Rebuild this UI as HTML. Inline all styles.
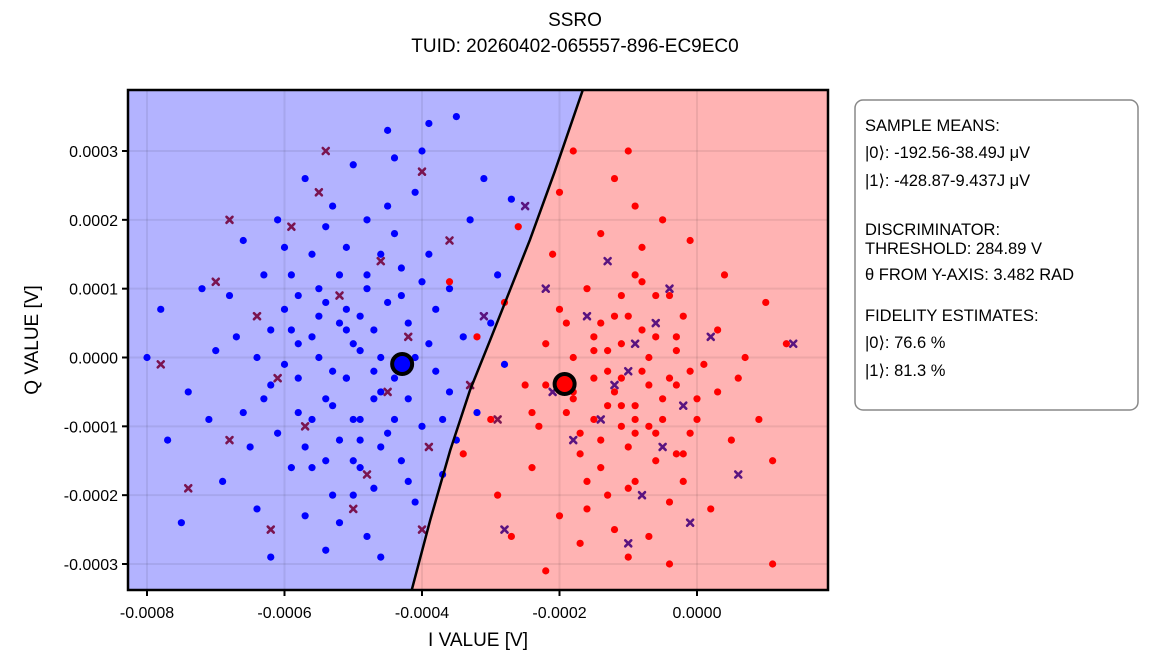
<!DOCTYPE html>
<html><head><meta charset="utf-8"><style>
body{margin:0;background:#fff;width:1149px;height:662px;overflow:hidden;font-family:"Liberation Sans",sans-serif}
svg text{font-family:"Liberation Sans","DejaVu Sans",sans-serif}
</style></head><body>
<svg id="chart" width="1149" height="662" xmlns="http://www.w3.org/2000/svg">
<text x="575" y="26" font-size="19" text-anchor="middle">SSRO</text>
<text x="575" y="52" font-size="19" text-anchor="middle">TUID: 20260402-065557-896-EC9EC0</text>
<g id="plot"></g>
<text x="478" y="646" font-size="19" text-anchor="middle">I VALUE [V]</text>
<text transform="translate(38,340) rotate(-90)" font-size="19" text-anchor="middle">Q VALUE [V]</text>
<g>
<rect x="855" y="100" width="283" height="310" rx="8" fill="#fff" stroke="#888" stroke-width="1.5"/>
<g font-size="16.5" fill="#000">
<text x="865" y="131">SAMPLE MEANS:</text>
<text x="865" y="158">|0⟩: -192.56-38.49J μV</text>
<text x="865" y="186">|1⟩: -428.87-9.437J μV</text>
<text x="865" y="235">DISCRIMINATOR:</text>
<text x="865" y="254">THRESHOLD: 284.89 V</text>
<text x="865" y="280">θ FROM Y-AXIS: 3.482 RAD</text>
<text x="865" y="321">FIDELITY ESTIMATES:</text>
<text x="865" y="348">|0⟩: 76.6 %</text>
<text x="865" y="376">|1⟩: 81.3 %</text>
</g></g>
</svg>
<script>
// data in units of 1e-4 V
const xTicks=[-8,-6,-4,-2,0];
const yTicks=[3,2,1,0,-1,-2,-3];
const boundaryI=[-1.66,-2.07,-2.43,-2.72,-3.01,-3.30,-3.59,-3.88,-4.15];
const boundaryQ=[3.89,2.70,1.71,0.98,0.25,-0.47,-1.35,-2.36,-3.38];
const blueI=[-5.0,-4.6,-5.4,-4.2,-5.8,-6.2,-4.8,-5.2,-3.8,-6.6,-4.4,-5.6,-3.6,-7.0,-4.0,-5.9,-4.7,-6.3,-3.4,-5.3,-7.4,-4.9,-6.0,-3.2,-5.5,-4.5,-6.8,-4.1,-5.7,-3.9,-6.5,-4.3,-7.2,-5.1,-2.9,-6.1,-3.7,-8.0,-4.8,-5.4,-6.9,-3.3,-5.0,-4.6,-6.4,-2.8,-5.8,-7.7,-4.2,-5.2,-3.5,-6.7,-4.0,-5.6,-7.5,-4.4,-6.2,-3.1,-5.3,-6.0,-4.9,-4.7,-5.5,-6.3,-3.8,-5.1,-4.5,-5.9,-4.3,-6.6,-3.6,-5.7,-7.1,-4.1,-5.0,-6.1,-3.0,-2.7,-3.9,-7.8,-5.4,-4.6,-4.5,-3.5,
-5.1,-4.9,-5.3,-4.7,-5.6,-4.4,-5.0,-4.8,-5.2,-4.6,-5.4,-4.3,-5.8,-4.1,-5.5,-4.9,-5.1,-4.6,-5.7,-4.4,-5.3,-6.0,-4.0,-5.0,-4.8,-5.9,-4.2,-5.6,-3.9,-6.2,-4.5,-5.2,-4.7,-5.4,-6.4,-3.7,-5.1,-4.3,-5.8,-4.9];
const blueQ=[0.2,-0.5,0.8,0.5,-0.3,0.4,1.2,-1.2,-0.2,-0.8,1.8,1.5,1.0,0.1,-1.0,-1.6,-1.9,1.2,0.3,2.2,-0.5,-0.9,-0.1,-0.8,0.0,0.8,0.9,2.4,-2.3,1.5,-1.3,-1.5,1.0,1.6,1.2,2.0,-1.7,0.0,-2.6,-0.6,-1.8,2.0,2.8,0.0,-2.2,-0.1,0.9,-1.2,-0.6,0.5,-1.2,0.3,3.0,-0.9,-2.4,2.9,-2.9,2.6,-2.0,1.6,0.6,-0.2,1.0,-0.6,0.7,-0.3,-1.1,0.4,1.3,1.7,-0.5,2.6,-0.9,-2.1,-1.5,-1.1,0.5,2.3,3.4,0.7,-2.8,-2.9,3.3,3.5,
-0.3,0.1,-0.7,0.4,0.3,-0.3,-0.9,1.0,1.2,-1.3,-1.5,0.9,-0.8,0.0,0.6,-1.6,0.7,1.5,-1.3,-0.9,-0.2,0.7,1.1,-2.0,2.0,1.2,-1.8,-1.6,0.2,-0.4,2.2,-2.4,-0.6,1.9,0.0,-0.9,0.4,-0.1,0.2,-1.2];
const redI=[-1.2,-0.8,-1.5,-0.5,-1.9,-1.0,-0.3,-1.7,-0.6,-2.2,-1.3,0.0,-2.5,-0.9,-1.6,-0.2,-2.0,-1.1,0.3,-2.8,-0.7,-1.4,0.5,-2.4,-0.4,-1.8,-0.1,-1.0,-2.1,0.7,-3.0,-0.5,-1.5,-0.9,-2.6,0.2,-1.2,-1.7,0.9,-2.9,-0.6,-1.3,-0.3,-2.3,-0.8,1.0,-3.2,-1.6,0.4,-2.0,-0.4,1.1,-2.7,-1.1,-0.2,-1.9,-1.4,-0.7,0.6,-3.4,-1.0,1.3,-2.2,-0.1,1.1,-3.6,-0.9,-1.8,
-1.1,-0.9,-1.3,-0.7,-1.5,-0.4,-1.0,-0.8,-1.2,-0.6,-1.4,-0.3,-1.8,-0.1,-1.5,-0.9,-1.1,-0.6,-1.7,-0.4,-1.3,-2.0,0.0,-1.0,-0.8,-1.9,-0.2,-1.6,0.1,-2.2,-0.5,-1.2,-0.7,-1.4,-2.4,0.3,-1.1,-0.3,-1.8,-0.9];
const redQ=[-0.5,-0.2,0.3,-0.9,-0.8,0.6,0.1,-1.4,-1.5,0.2,-2.0,-0.6,-0.4,1.2,1.0,-1.8,-2.3,-1.0,0.4,0.8,-2.6,1.8,-1.2,-1.6,0.9,0.0,-1.1,-2.9,1.5,0.0,-0.9,2.0,-0.3,-0.7,1.9,-2.2,2.6,-2.7,-0.9,-2.0,0.3,0.1,-0.4,-1.0,1.6,0.8,0.3,-1.8,1.2,2.4,-3.0,-1.5,-2.6,0.9,0.6,0.5,-1.2,-0.4,-0.3,-1.4,3.0,0.2,-3.1,1.7,-3.0,1.1,2.2,3.0,
-0.3,-0.9,-0.7,0.0,0.1,-0.3,-1.3,0.4,0.6,-1.1,-1.6,-1.4,-0.5,-0.2,-0.9,-1.8,0.2,0.9,-1.1,-2.1,-0.2,0.7,-0.9,-1.9,1.1,-0.3,-1.4,-2.2,-0.1,-0.4,-0.6,-2.5,-1.0,0.5,-0.8,-0.5,-0.7,0.3,-0.6,-1.1];
const crossAI=[-5.9,-4.0,-6.8,-4.5,-7.4,-5.2,-3.6,-6.1,-4.8,-5.5,-7.0,-3.9,-5.0,-6.4,-4.2,-3.3,-6.8,-5.7,-4.6,-7.8,-6.2,-4.0,-2.9,-5.4];
const crossAQ=[1.9,2.7,-1.2,-0.5,-1.9,0.9,1.7,-0.3,-1.7,2.4,1.1,-1.3,-2.2,0.6,0.3,-0.4,2.0,-1.0,1.4,-0.1,-2.5,-2.5,-0.9,3.0];
const crossBI=[-1.0,-0.5,-1.6,-0.2,-2.1,-0.8,-1.3,0.2,-2.5,-1.0,-0.4,-1.8,0.6,-2.8,-1.4,-0.6,1.4,-2.2,-0.1,-3.1,-0.9,-1.2];
const crossBQ=[-0.2,-1.3,0.6,-0.7,-0.5,-2.0,1.4,0.3,2.2,-2.7,1.0,-1.2,-1.7,-2.5,-0.9,0.5,0.2,1.0,-2.4,0.6,0.2,-0.4];
const meanI=[-1.9256,-4.2887];
const meanQ=[-0.3849,-0.0944];

const X0=128,X1=828,Y0=90,Y1=590;
const sx=v=>697+v*68.75;
const sy=v=>357.5-v*68.83;
const NS="http://www.w3.org/2000/svg";
const g=document.getElementById('plot');
function mk(t,a,parent){const e=document.createElementNS(NS,t);for(const k in a)e.setAttribute(k,a[k]);(parent||g).appendChild(e);return e;}
let bpts=boundaryI.map((v,i)=>sx(v)+','+sy(boundaryQ[i]));
let blue=mk('polygon',{points:X0+','+Y0+' '+bpts.join(' ')+' '+X0+','+Y1,fill:'#b3b3ff'});


let red=mk('polygon',{points:bpts.join(' ')+' '+X1+','+Y1+' '+X1+','+Y0,fill:'#ffb3b3'});


xTicks.forEach(t=>{const l=mk('line',{x1:sx(t),x2:sx(t),y1:Y0,y2:Y1,stroke:'#000','stroke-opacity':0.07,'stroke-width':2});

});
yTicks.forEach(t=>{const l=mk('line',{x1:X0,x2:X1,y1:sy(t),y2:sy(t),stroke:'#000','stroke-opacity':0.07,'stroke-width':2});

});
blueI.forEach((v,i)=>{const c=mk('circle',{cx:sx(v),cy:sy(blueQ[i]),r:3.6,fill:'#0000ff'});

});
redI.forEach((v,i)=>{const c=mk('circle',{cx:sx(v),cy:sy(redQ[i]),r:3.6,fill:'#ff0000'});

});
function cross(x,y,col,name){const p=mk('path',{d:`M${x-3} ${y-3}L${x+3} ${y+3}M${x-3} ${y+3}L${x+3} ${y-3}`,stroke:col,'stroke-width':2.6,'stroke-linecap':'round'});

}
crossAI.forEach((v,i)=>cross(sx(v),sy(crossAQ[i]),'#7a1450','misclassified-cross'));
crossBI.forEach((v,i)=>cross(sx(v),sy(crossBQ[i]),'#5a1480','misclassified-cross'));
const bl=mk('polyline',{points:bpts.join(' '),fill:'none',stroke:'#000','stroke-width':2.5});


const mcol=['#ff0000','#0000ff'];
meanI.forEach((v,i)=>{const c=mk('circle',{cx:sx(v),cy:sy(meanQ[i]),r:10,fill:mcol[i],stroke:'#000','stroke-width':4});

});
const fr=mk('rect',{x:X0,y:Y0,width:X1-X0,height:Y1-Y0,fill:'none',stroke:'#000','stroke-width':2.5});


xTicks.forEach(t=>{mk('line',{x1:sx(t),x2:sx(t),y1:Y1,y2:Y1+6,stroke:'#000','stroke-width':2});
const tx=mk('text',{x:sx(t),y:Y1+28,'font-size':16,'text-anchor':'middle'});tx.textContent=t===0?'0.0000':(t/10000).toFixed(4);

});
yTicks.forEach(t=>{mk('line',{x1:X0-6,x2:X0,y1:sy(t),y2:sy(t),stroke:'#000','stroke-width':2});
const tx=mk('text',{x:X0-10,y:sy(t)+6,'font-size':16,'text-anchor':'end'});tx.textContent=t===0?'0.0000':(t/10000).toFixed(4);

});
</script>
</body></html>
